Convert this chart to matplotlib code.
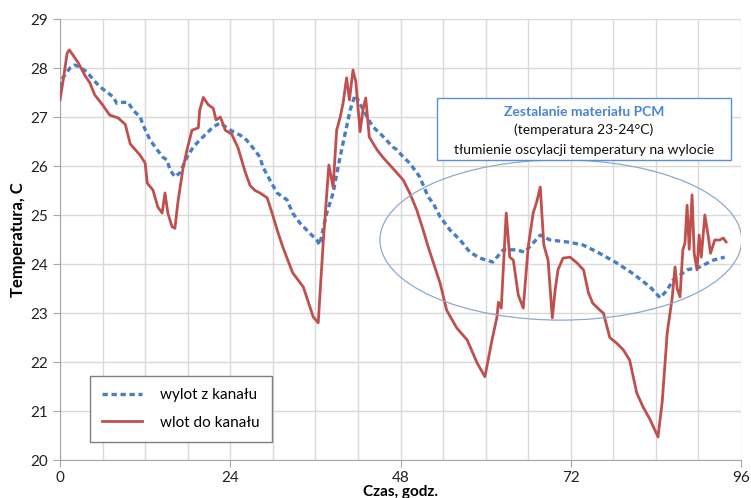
import numpy as np
import matplotlib.pyplot as plt
from matplotlib.patches import Ellipse, Rectangle

# czas [h] i temperatura [C] - wlot do kanalu
t_wlot = [0, 0.5, 1.0, 1.3, 1.8, 2.6, 3.5, 4.2, 4.9, 6.0, 7.0, 8.2, 9.2, 9.9,
          11.3, 12.0, 12.3, 13.1, 13.8, 14.4, 14.8, 15.2, 15.8, 16.2, 16.6,
          17.3, 17.9, 18.6, 19.5, 19.7, 20.2, 20.9, 21.6, 22.0, 22.6, 23.3,
          24.2, 25.1, 26.1, 26.8, 27.5, 28.2, 29.2, 29.9, 30.6, 31.4, 32.8,
          34.3, 35.7, 36.4, 37.1, 37.9, 38.5, 39.0, 39.5, 39.9, 40.4, 40.8,
          41.3, 41.7, 42.3, 42.7, 43.1, 43.6, 44.1, 44.7, 45.5, 46.5, 47.5,
          48.4, 49.3, 50.3, 51.2, 51.9, 53.6, 54.5, 55.9, 57.4, 58.8, 59.9,
          60.9, 61.6, 61.8, 62.2, 62.9, 63.4, 63.9, 64.6, 65.3, 66.0, 66.7,
          67.2, 67.7, 68.2, 68.8, 69.4, 69.8, 70.2, 70.9, 71.9, 72.9, 73.8,
          74.5, 75.1, 76.1, 76.6, 77.5, 78.5, 79.4, 80.3, 81.3, 82.2, 83.2,
          84.3, 84.9, 85.6, 86.3, 86.7, 87.0, 87.4, 87.8, 88.1, 88.4, 88.7,
          89.1, 89.4, 89.8, 90.1, 90.4, 90.9, 91.4, 91.7, 92.3, 93.0, 93.5,
          93.9]
T_wlot = [27.35, 27.8, 28.3, 28.37, 28.27, 28.1, 27.85, 27.7, 27.45, 27.25,
          27.04, 26.98, 26.85, 26.45, 26.22, 26.06, 25.65, 25.51, 25.16,
          25.04, 25.45, 25.04, 24.76, 24.73, 25.24, 25.92, 26.33, 26.73,
          26.78, 27.14, 27.4, 27.25, 27.18, 26.94, 27.0, 26.73, 26.65, 26.37,
          25.88, 25.6, 25.5, 25.45, 25.35, 25.04, 24.7, 24.35, 23.82, 23.53,
          22.92, 22.8, 24.43, 26.02, 25.57, 26.73, 27.0, 27.28, 27.8, 27.35,
          27.96, 27.72, 26.7, 27.14, 27.39, 26.59, 26.47, 26.33, 26.18,
          26.02, 25.86, 25.71, 25.45, 25.1, 24.69, 24.35, 23.6, 23.06, 22.7,
          22.45, 21.98, 21.7, 22.45, 22.92, 23.22, 23.1, 25.04, 24.14, 24.08,
          23.37, 23.1, 24.35, 25.04, 25.27, 25.57, 24.39, 24.08, 22.9, 23.47,
          23.88, 24.12, 24.14, 24.02, 23.88, 23.41, 23.2, 23.06, 23.0, 22.5,
          22.38, 22.25, 22.04, 21.37, 21.08, 20.82, 20.47, 21.2, 22.6, 23.31,
          23.94, 23.5, 23.33, 24.29, 24.43, 25.2, 24.3, 25.41, 24.22, 23.88,
          24.59, 24.14, 25.0, 24.55, 24.22, 24.49, 24.49, 24.53, 24.45]

# wylot z kanalu
t_wylot = [0, 0.4, 1.4, 2.1, 2.8, 3.8, 4.7, 5.6, 6.6, 7.5, 8.0, 8.9, 9.6,
           10.3, 11.3, 11.7, 12.7, 13.7, 14.5, 15.1, 15.5, 16.2, 16.9, 17.9,
           18.8, 19.7, 20.7, 21.6, 22.6, 23.5, 24.4, 25.4, 26.3, 27.2, 28.2,
           28.6, 29.6, 30.6, 32.0, 32.8, 33.8, 35.2, 36.2, 36.6, 37.6, 38.5,
           39.2, 39.9, 40.9, 41.6, 42.0, 43.3, 44.1, 45.1, 46.9, 47.5, 48.4,
           49.3, 50.7, 51.9, 52.6, 53.6, 55.0, 56.4, 57.8, 59.2, 61.0, 62.5,
           64.4, 65.5, 66.7, 67.7, 69.1, 71.5, 73.7, 75.8, 78.5, 80.8, 83.2,
           84.6, 85.6, 86.4, 88.4, 90.2, 92.1, 93.7]
T_wylot = [27.6, 27.8, 28.0, 28.06, 28.02, 27.92, 27.76, 27.62, 27.51, 27.41,
           27.28, 27.3, 27.3, 27.14, 27.0, 26.84, 26.53, 26.33, 26.18, 26.12,
           25.92, 25.78, 25.86, 26.18, 26.39, 26.53, 26.67, 26.8, 26.88,
           26.78, 26.7, 26.63, 26.53, 26.37, 26.18, 25.98, 25.71, 25.45,
           25.31, 25.04, 24.84, 24.63, 24.49, 24.39, 25.04, 25.45, 25.98,
           26.47, 27.14, 27.45, 27.35, 27.0, 26.8, 26.67, 26.39, 26.33, 26.18,
           26.06, 25.78, 25.37, 25.24, 24.96, 24.69, 24.49, 24.24, 24.12,
           24.04, 24.29, 24.29, 24.24, 24.43, 24.59, 24.49, 24.45, 24.39,
           24.24, 24.02, 23.8, 23.53, 23.31, 23.47, 23.67, 23.88, 23.94,
           24.08, 24.14]

plt.rcParams['font.family'] = ['Lato', 'DejaVu Sans']

fig = plt.figure(figsize=(7.51, 4.98), dpi=100)
ax = fig.add_axes([0.0799, 0.0763, 0.9068, 0.8855])

ax.plot(t_wylot, T_wylot, color='#4A7EC4', lw=2.4, ls=(0, (1.6, 1.1)),
        label='wylot z kanału', zorder=3)
ax.plot(t_wlot, T_wlot, color='#C0504D', lw=2.0, label='wlot do kanału',
        zorder=4)

ax.set_xlim(0, 96)
ax.set_ylim(20, 29)
ax.set_xticks(np.arange(0, 97, 24))
ax.set_xticks(np.arange(0, 97, 6), minor=True)
ax.set_yticks(np.arange(20, 30, 1))
ax.grid(True, which='both', color='#D9D9D9', lw=1.0)
ax.set_axisbelow(True)
for s in ['top', 'right']:
    ax.spines[s].set_visible(False)
for s in ['left', 'bottom']:
    ax.spines[s].set_color('#A6A6A6')
ax.tick_params(which='major', length=5, color='#A6A6A6', labelsize=11,
               labelcolor='#222222')
ax.tick_params(axis='x', which='minor', length=0)
ax.tick_params(axis='x', pad=3)

ax.set_xlabel('Czas, godz.', fontsize=11, fontweight='bold', labelpad=0)
ax.set_ylabel('Temperatura, C', fontsize=12, fontweight='bold', labelpad=3)

# elipsa - zakres zestalania PCM
ax.add_patch(Ellipse((70.6, 24.49), 51, 3.27, fill=False, ec='#8EA9CF',
                     lw=0.9, zorder=5))

# ramka z opisem
ax.add_patch(Rectangle((0.5536, 0.6803), 0.4317, 0.1406,
                       transform=ax.transAxes, fc='white', ec='#5B8FD6',
                       lw=1.0, zorder=6))
ax.text(0.7695, 0.789, 'Zestalanie materiału PCM', transform=ax.transAxes,
        ha='center', va='center', fontsize=10, fontweight='bold',
        color='#4A86D0', zorder=7)
ax.text(0.7695, 0.748, '(temperatura 23-24°C)', transform=ax.transAxes,
        ha='center', va='center', fontsize=10, color='#111111', zorder=7)
ax.text(0.7695, 0.703, 'tłumienie oscylacji temperatury na wylocie',
        transform=ax.transAxes, ha='center', va='center', fontsize=10,
        color='#111111', zorder=7)

leg = ax.legend(loc='lower left', bbox_to_anchor=(0.044, 0.041),
                borderaxespad=0, fontsize=11, fancybox=False,
                edgecolor='#7F7F7F', framealpha=1, handlelength=2.6,
                borderpad=0.8, labelspacing=0.9, handletextpad=1.2)
leg.get_frame().set_linewidth(1.0)

fig.savefig('out.png', dpi=100)
